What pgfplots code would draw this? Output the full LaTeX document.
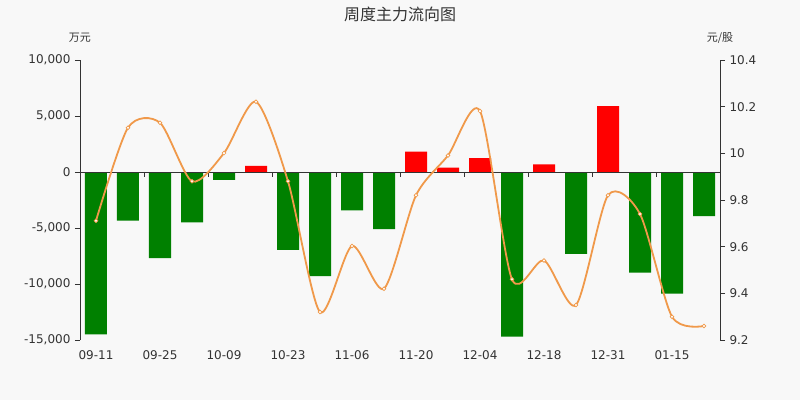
\documentclass[border=0pt]{standalone}
\usepackage{pgfplots}
\usepackage{pgfplotstable}
\pgfplotsset{compat=1.18}
\usepackage{fontspec}
\setmainfont{DejaVu Sans}
\newfontfamily\cjk{Noto Sans CJK SC}
\definecolor{bg}{HTML}{F8F8F8}
\definecolor{axc}{HTML}{333333}
\definecolor{upred}{HTML}{FF0000}
\definecolor{dngreen}{HTML}{008000}
\definecolor{priceline}{HTML}{F0994A}

% net inflow, 10k yuan (weekly)
\pgfplotstableread{
x flow
0  -14500
1  -4350
2  -7680
3  -4490
4  -710
5  540
6  -6960
7  -9290
8  -3420
9  -5090
10 1810
11 390
12 1250
13 -14700
14 690
15 -7320
16 5890
17 -8990
18 -10860
19 -3930
}\flowtab

% close price, yuan/share
\pgfplotstableread{
x price
0  9.711
1  10.110
2  10.131
3  9.880
4  10.001
5  10.221
6  9.880
7  9.320
8  9.603
9  9.420
10 9.820
11 9.991
12 10.181
13 9.460
14 9.541
15 9.350
16 9.820
17 9.740
18 9.300
19 9.260
}\pricetab

\begin{document}
\begin{tikzpicture}[x=1pt,y=1pt]
\fill[bg] (-80,-60) rectangle (720,340);
\begin{axis}[
    at={(0,0)}, anchor=south west,
    scale only axis, width=640pt, height=280pt,
    xmin=-0.5, xmax=19.5,
    ymin=-15000, ymax=10000,
    scaled y ticks=false,
    axis y line*=left,
    axis x line*=bottom,
    x axis line style={draw=none},
    y axis line style={axc, line width=0.8pt},
    xtick={0,2,...,18},
    xticklabels={09-11,09-25,10-09,10-23,11-06,11-20,12-04,12-18,12-31,01-15},
    x tick style={draw=none},
    ytick={-15000,-10000,-5000,0,5000,10000},
    yticklabels={{-15,000},{-10,000},{-5,000},0,{5,000},{10,000}},
    y tick style={axc, line width=0.8pt},
    major tick length=5pt,
    tick align=outside,
    ticklabel style={font=\fontsize{12}{14}\selectfont, text=axc},
    xticklabel style={yshift=-2pt},
    yticklabel style={xshift=-1pt},
    clip=false,
]
\addplot[ybar, bar width=22pt, draw=none, fill=dngreen]
    table[x=x, y expr={\thisrow{flow}<0 ? \thisrow{flow} : 0}] {\flowtab};
\addplot[ybar, bar width=22pt, draw=none, fill=upred]
    table[x=x, y expr={\thisrow{flow}>0 ? \thisrow{flow} : 0}] {\flowtab};
\draw[axc, line width=0.8pt] (axis cs:-0.5,0) -- (axis cs:19.5,0);
\pgfplotsinvokeforeach{1.5,3.5,5.5,7.5,9.5,11.5,13.5,15.5,17.5}{
    \draw[axc, line width=0.8pt] (axis cs:#1,0) -- ++(0pt,-5pt);
}
\end{axis}
\begin{axis}[
    at={(0,0)}, anchor=south west,
    scale only axis, width=640pt, height=280pt,
    xmin=-0.5, xmax=19.5,
    ymin=9.2, ymax=10.4,
    axis y line*=right,
    axis x line=none,
    y axis line style={axc, line width=0.8pt},
    ytick={9.2,9.4,9.6,9.8,10,10.2,10.4},
    yticklabels={9.2,9.4,9.6,9.8,10,10.2,10.4},
    y tick style={axc, line width=0.8pt},
    major tick length=5pt,
    tick align=outside,
    ticklabel style={font=\fontsize{12}{14}\selectfont, text=axc},
    yticklabel style={xshift=1pt},
    clip=false,
]
\addplot[priceline, line width=1.8pt, smooth, tension=0.45,
    mark=*, mark size=1.9pt, mark options={fill=white, draw=priceline, line width=0.7pt}]
    table[x=x, y=price] {\pricetab};
\end{axis}
\node[font=\cjk\fontsize{16}{18}\selectfont, text=axc] at (320,326) {周度主力流向图};
\node[font=\cjk\fontsize{11}{13}\selectfont, text=axc] at (0,302) {万元};
\node[font=\cjk\fontsize{11}{13}\selectfont, text=axc] at (640,302) {元/股};
\end{tikzpicture}
\end{document}
